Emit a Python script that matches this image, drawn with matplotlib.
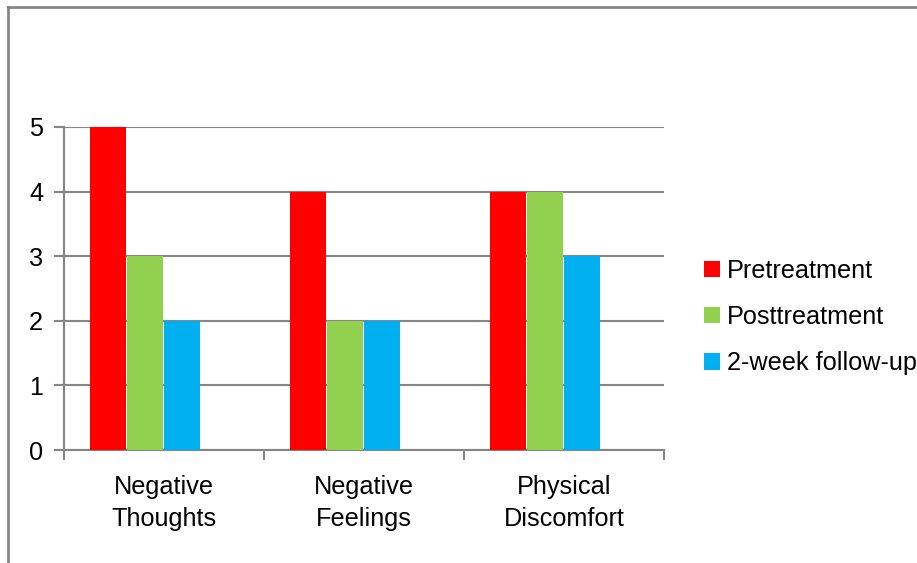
import numpy as np
import matplotlib.pyplot as plt
from matplotlib.lines import Line2D

# Mean ratings per symptom area at each assessment point
categories = ['Negative\nThoughts', 'Negative\nFeelings', 'Physical\nDiscomfort']
series_names = ['Pretreatment', 'Posttreatment', '2-week follow-up']
pretreatment = [5, 4, 4]
posttreatment = [3, 2, 4]
followup = [2, 2, 3]
y_ticks = [0, 1, 2, 3, 4, 5]

colors = ['#FF0000', '#92D050', '#00B0F0']
grey = '#868686'
fs = 18.2

plt.rcParams['font.family'] = ['Liberation Sans', 'DejaVu Sans']

fig = plt.figure(figsize=(9.17, 5.63), dpi=100)
ax = fig.add_axes([64 / 917, 113 / 563, 600 / 917, 323 / 563])

x = np.arange(len(categories))
width = 0.18
offsets = [-0.28, -0.095, 0.09]
for vals, off, col, name in zip([pretreatment, posttreatment, followup], offsets, colors, series_names):
    ax.bar(x + off, vals, width, color=col, label=name, zorder=3)

ax.set_xlim(-0.5, len(categories) - 0.5)
ax.set_ylim(0, 5)
ax.set_yticks(y_ticks)
ax.set_yticklabels([str(v) for v in y_ticks], fontsize=fs)
ax.yaxis.grid(True, color=grey, linewidth=1.5, zorder=0)
ax.set_axisbelow(True)

# category boundaries carry the tick marks, labels sit in the middle
ax.set_xticks(np.arange(-0.5, len(categories), 1.0))
ax.set_xticklabels([])
ax.set_xticks(x, minor=True)
ax.set_xticklabels(categories, minor=True, fontsize=fs, linespacing=1.42)
ax.tick_params(axis='x', which='minor', length=0, pad=18)
ax.tick_params(axis='x', which='major', length=7, width=1.5, color=grey)
ax.tick_params(axis='y', length=7, width=1.5, color=grey, pad=8)

for side in ['top', 'right']:
    ax.spines[side].set_visible(False)
for side in ['left', 'bottom']:
    ax.spines[side].set_color(grey)
    ax.spines[side].set_linewidth(1.5)

handles, labels = ax.get_legend_handles_labels()
fig.legend(handles, labels, loc='center left', bbox_to_anchor=(694 / 917, 1 - 317 / 563),
           frameon=False, fontsize=fs, handlelength=0.62, handleheight=0.62,
           handletextpad=0.3, labelspacing=0.88, borderaxespad=0)

# chart area outline (top and left edges)
fig.add_artist(Line2D([7.5 / 917, 7.5 / 917], [0, 1 - 7 / 563], color=grey, linewidth=2,
                      transform=fig.transFigure))
fig.add_artist(Line2D([7.5 / 917, 1], [1 - 7 / 563, 1 - 7 / 563], color=grey, linewidth=2,
                      transform=fig.transFigure))

fig.savefig('out.png', dpi=100)
